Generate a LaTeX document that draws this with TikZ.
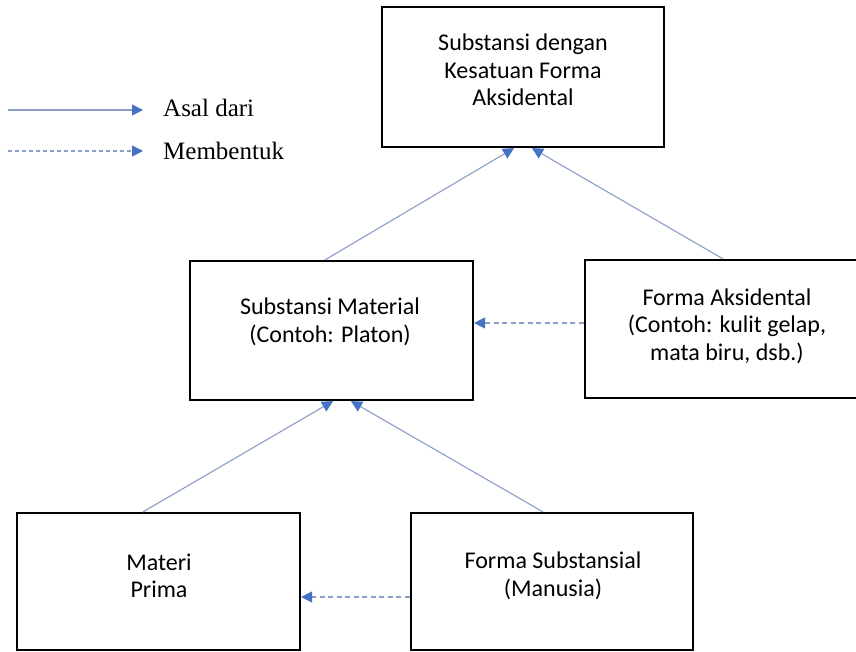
\documentclass[tikz,border=0pt]{standalone}
\usepackage{fontspec}
\setmainfont{Carlito}
\newfontfamily\legendfont{Liberation Serif}
\usetikzlibrary{arrows.meta}
\definecolor{tipblue}{HTML}{4472C4}
\definecolor{linkgray}{HTML}{8A9DC6}
\begin{document}
\begin{tikzpicture}[x=1pt,y=-1pt,
  box/.style={draw=black, line width=2.2pt, inner sep=0pt},
  txt/.style={align=center, inner sep=0pt, font=\fontsize{24}{27.5}\selectfont},
  legtxt/.style={anchor=west, inner sep=0pt, font=\legendfont\fontsize{25}{28}\selectfont},
  link/.style={draw=linkgray, line width=1.1pt, arrows={-{Triangle[length=11pt,width=11pt,color=tipblue]}}},
  dlink/.style={link, dash pattern=on 5pt off 3.5pt}
]
\clip (0,0) rectangle (856,652);
\fill[white] (0,0) rectangle (856,652);

% boxes
\node[box, minimum width=282pt, minimum height=140pt] (top) at (523,77) {};
\node[box, minimum width=283pt, minimum height=139pt] (ml) at (331.5,330.5) {};
\node[box, minimum width=284pt, minimum height=138pt] (fa) at (727,329) {};
\node[box, minimum width=283pt, minimum height=137pt] (mp) at (158.5,581.5) {};
\node[box, minimum width=282pt, minimum height=137pt] (fs) at (552,581.5) {};

% texts
\node[txt] (toptxt) at (523,70) {Substansi dengan\\Kesatuan Forma\\Aksidental};
\node[txt] (mltxt) at (330,322) {Substansi Material\\(Contoh: Platon)};
\node[txt] (fatxt) at (727,326) {Forma Aksidental\\(Contoh: kulit gelap,\\mata biru, dsb.)};
\node[txt] (mptxt) at (159,576) {Materi\\Prima};
\node[txt] (fstxt) at (553,576) {Forma Substansial\\(Manusia)};

% connectors
\draw[link] ([xshift=-6.5pt]ml.north) -- ([xshift=-9pt]top.south);
\draw[link] ([xshift=-4pt]fa.north) -- ([xshift=9pt]top.south);
\draw[link] ([xshift=-15.5pt]mp.north) -- ([xshift=1.5pt]ml.south);
\draw[link] ([xshift=-9pt]fs.north) -- ([xshift=19.5pt]ml.south);
\draw[dlink] ([yshift=6pt]fa.west) -- ([yshift=7.5pt]ml.east);
\draw[dlink] ([yshift=-15.5pt]fs.west) -- ([yshift=-15.5pt]mp.east);

% legend
\coordinate (l1s) at (8,110);
\coordinate (l1e) at (143,110);
\coordinate (l2s) at (8,151);
\coordinate (l2e) at (143,151);
\draw[link] (l1s) -- (l1e);
\draw[dlink, dash pattern=on 4pt off 3pt] (l2s) -- (l2e);
\node[legtxt] (l1t) at (163,108) {Asal dari};
\node[legtxt] (l2t) at (163,151) {Membentuk};
\end{tikzpicture}
\end{document}
